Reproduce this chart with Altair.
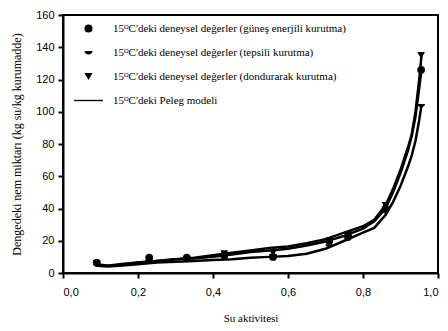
import altair as alt
import pandas as pd

# Experimental points (x = water activity, y = equilibrium moisture)
aw_points = [0.09, 0.23, 0.33, 0.43, 0.56, 0.71, 0.76, 0.86, 0.955]
gunes_y = [6.5, 9.5, 9.5, 11.0, 10.0, 20.0, 23.0, 40.0, 126.0]
tepsi_y = [5.0, 7.5, 8.0, 10.0, 11.0, 17.0, 21.0, 38.0, 104.0]
dond_y = [6.0, 8.5, 8.5, 12.0, 12.5, 20.0, 24.0, 42.0, 135.0]

# Peleg model curves
aw_curve = [0.09, 0.12, 0.15, 0.2, 0.25, 0.3, 0.35, 0.4, 0.45, 0.5, 0.55, 0.6,
            0.65, 0.7, 0.75, 0.8, 0.83, 0.86, 0.88, 0.9, 0.92, 0.93, 0.94, 0.95, 0.956]
curve_dond = [5.5, 4.5, 5.5, 6.5, 7.5, 8.5, 9.5, 11.0, 12.5, 14.0, 15.5, 16.5,
              18.5, 21.0, 25.0, 29.0, 33.0, 42.0, 52.0, 64.0, 78.0, 86.0, 100.0, 120.0, 135.0]
curve_gunes = [5.0, 4.5, 5.0, 6.5, 7.5, 8.5, 9.0, 10.0, 11.5, 13.0, 14.0, 15.0,
               17.0, 19.5, 23.0, 27.5, 32.0, 40.0, 50.0, 62.0, 76.0, 85.0, 97.0, 115.0, 126.0]
curve_tepsi = [4.5, 4.0, 4.5, 5.5, 6.5, 7.0, 7.5, 8.0, 8.5, 9.5, 10.0, 10.5,
               12.0, 15.0, 20.0, 25.0, 28.0, 36.0, 44.0, 54.0, 66.0, 73.0, 82.0, 95.0, 104.0]

labels = [
    "15ᴼC'deki deneysel değerler (güneş enerjili kurutma)",
    "15ᴼC'deki deneysel değerler (tepsili kurutma)",
    "15ᴼC'deki deneysel değerler (dondurarak kurutma)",
    "15ᴼC'deki Peleg modeli",
]
x_ticks = [0.0, 0.2, 0.4, 0.6, 0.8, 1.0]
y_ticks = [0, 20, 40, 60, 80, 100, 120, 140, 160]

half_disc = "M-1,-0.35 L1,-0.35 A1,0.85 0 0,1 -1,-0.35 Z"
line_sym = "M-3.6,-0.17 L3.6,-0.17 L3.6,0.17 L-3.6,0.17 Z"
shapes = ["circle", half_disc, "triangle-down", line_sym]

pts = pd.DataFrame({
    "aw": aw_points * 3,
    "m": gunes_y + tepsi_y + dond_y,
    "seri": [labels[0]] * len(aw_points) + [labels[1]] * len(aw_points) + [labels[2]] * len(aw_points),
})
crv = pd.DataFrame({
    "aw": aw_curve * 3,
    "m": curve_gunes + curve_tepsi + curve_dond,
    "seri": ["g"] * len(aw_curve) + ["t"] * len(aw_curve) + ["d"] * len(aw_curve),
})

xenc = alt.X("aw:Q", scale=alt.Scale(domain=[0, 1], nice=False),
             axis=alt.Axis(values=x_ticks, title="Su aktivitesi",
                           labelExpr="replace(format(datum.value, '.1f'), '.', ',')"))
yenc = alt.Y("m:Q", scale=alt.Scale(domain=[0, 160], nice=False),
             axis=alt.Axis(values=y_ticks, title="Dengedeki nem miktarı (kg su/kg kurumadde)"))

lines = alt.Chart(crv).mark_line(color="black", strokeWidth=2.5).encode(
    x=xenc, y=yenc, detail="seri:N"
)

points = alt.Chart(pts).mark_point(filled=True, color="black", opacity=1, size=60).encode(
    x=xenc, y=yenc,
    shape=alt.Shape("seri:N",
                    scale=alt.Scale(domain=labels, range=shapes),
                    legend=alt.Legend(title=None, orient="none", legendX=20, legendY=8,
                                      symbolSize=64, symbolFillColor="black",
                                      symbolStrokeWidth=0, labelOffset=19,
                                      labelFont="Liberation Serif", labelFontSize=11,
                                      labelColor="black", rowPadding=12, padding=0,
                                      labelLimit=400)),
)

chart = alt.layer(lines, points).properties(
    width=375, height=258,
    autosize=alt.AutoSizeParams(type="none"),
    padding={"left": 55, "top": 7, "right": 2, "bottom": 50},
).configure_view(
    stroke="black", strokeWidth=2
).configure_axis(
    domainColor="black", domainWidth=2, tickColor="black", tickWidth=2, tickSize=5,
    grid=False, labelFont="Liberation Sans", labelFontSize=11, labelColor="black",
    titleFont="Liberation Serif", titleFontSize=11, titleFontWeight="normal", titleColor="black",
).configure_axisX(
    labelPadding=8, titlePadding=15
).configure_axisY(
    labelPadding=4, titlePadding=12, titleFontSize=12
)

chart.save("out.html", embed_options={"renderer": "svg", "actions": False})
